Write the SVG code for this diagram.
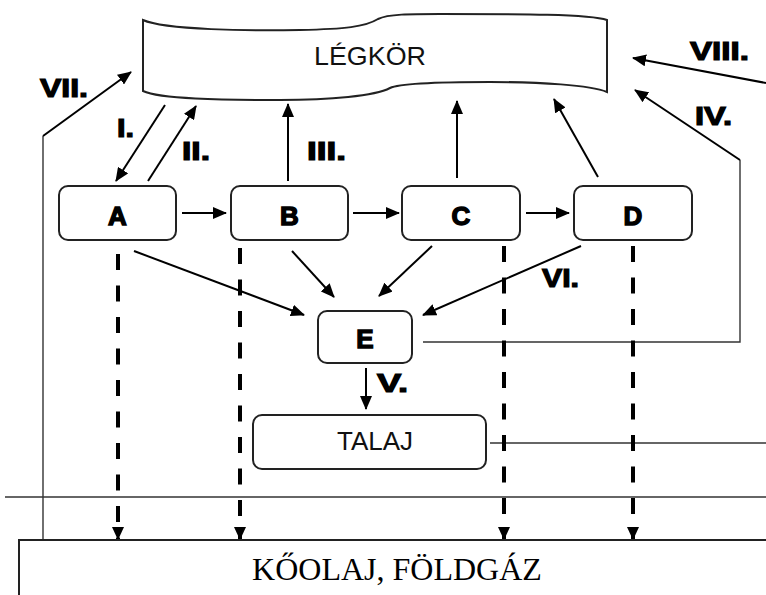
<svg xmlns="http://www.w3.org/2000/svg" width="766" height="595" viewBox="0 0 766 595">
<style>
.box{fill:#fff;stroke:#222;stroke-width:2}
.lbl{font-family:"Liberation Sans",Arial,sans-serif;font-weight:bold;font-size:26px;fill:#000;stroke:#000;stroke-width:1.4;text-anchor:middle}
.rn{font-family:"Liberation Sans",Arial,sans-serif;font-weight:bold;font-size:26px;fill:#000;stroke:#000;stroke-width:1.2}
.txt{font-family:"Liberation Sans",Arial,sans-serif;font-size:26px;fill:#111;text-anchor:middle}
.arr{fill:none;stroke:#000;stroke-width:2;marker-end:url(#ah)}
.thin{fill:none;stroke:#333;stroke-width:1.4}
.dash{fill:none;stroke:#000;stroke-width:4;stroke-dasharray:16 15.5;marker-end:url(#dh)}
</style>
<defs>
<marker id="ah" markerUnits="userSpaceOnUse" markerWidth="14" markerHeight="12" refX="13" refY="6" orient="auto">
<path d="M0,0 L14,6 L0,12 Z" fill="#000"/>
</marker>
<marker id="dh" markerUnits="userSpaceOnUse" markerWidth="13" markerHeight="12" refX="12" refY="6" orient="auto">
<path d="M0,0 L13,6 L0,12 Z" fill="#000"/>
</marker>
</defs>
<rect width="766" height="595" fill="#fff"/>

<g id="connectors">
<line class="thin" x1="5" y1="497" x2="766" y2="497"/>
<line class="thin" x1="490" y1="443" x2="766" y2="443"/>
<polyline class="thin" points="43,540 43,136"/>
<line class="arr" x1="43" y1="136" x2="131" y2="72"/>
<polyline class="thin" points="423,342 740,342 740,160"/>
<line class="arr" x1="740" y1="160" x2="635" y2="90"/>
<line class="arr" x1="766" y1="83" x2="633" y2="58"/>
<line class="arr" x1="165" y1="105" x2="116" y2="181"/>
<line class="arr" x1="148" y1="181" x2="196" y2="106"/>
<line class="arr" x1="288" y1="181" x2="288" y2="104"/>
<line class="arr" x1="457" y1="178" x2="457" y2="101"/>
<line class="arr" x1="598" y1="177" x2="554" y2="99"/>
<line class="arr" x1="182" y1="213" x2="226" y2="213"/>
<line class="arr" x1="353" y1="213" x2="399" y2="213"/>
<line class="arr" x1="526" y1="213" x2="569" y2="213"/>
<line class="arr" x1="134" y1="251" x2="304" y2="315"/>
<line class="arr" x1="292" y1="251" x2="334" y2="297"/>
<line class="arr" x1="432" y1="246" x2="379" y2="296"/>
<line class="arr" x1="581" y1="246" x2="423" y2="315"/>
<line class="arr" x1="366" y1="368" x2="366" y2="409"/>
<line class="dash" x1="118" y1="254" x2="118" y2="539"/>
<line class="dash" x1="240" y1="248" x2="240" y2="539"/>
<line class="dash" x1="504" y1="246" x2="504" y2="539"/>
<line class="dash" x1="633" y1="246" x2="633" y2="539"/>
</g>

<g id="legkor">
<path class="box" d="M143,20 C165,30 250,31 300,30 C345,29 365,27 378,19 C388,14 410,14 440,14 C520,14 590,14 607,20 L607,92 C590,85 540,82 490,82 C440,82 400,83 390,88 C375,96 330,100 280,100 C220,100 160,99 143,91 Z"/>
<text class="txt" x="370" y="65" textLength="112" lengthAdjust="spacingAndGlyphs">LÉGKÖR</text>
</g>

<g id="nodeA"><rect class="box" x="59" y="186" width="117" height="54" rx="9"/><text class="lbl" x="117.5" y="225">A</text></g>
<g id="nodeB"><rect class="box" x="231" y="186" width="117" height="54" rx="9"/><text class="lbl" x="289.5" y="225">B</text></g>
<g id="nodeC"><rect class="box" x="402" y="186" width="118" height="54" rx="9"/><text class="lbl" x="461" y="225">C</text></g>
<g id="nodeD"><rect class="box" x="574" y="186" width="118" height="54" rx="9"/><text class="lbl" x="633" y="225">D</text></g>
<g id="nodeE"><rect class="box" x="318" y="311" width="94" height="52" rx="9"/><text class="lbl" x="365" y="348">E</text></g>
<g id="talaj"><rect class="box" x="253" y="415" width="233" height="54" rx="9"/><text class="txt" x="375" y="450">TALAJ</text></g>
<g id="koolaj">
<path d="M19,595 L19,540 L766,540" fill="#fff" stroke="#222" stroke-width="2"/>
<text x="397" y="580" font-family="'Liberation Serif','Times New Roman',serif" font-size="32" text-anchor="middle" fill="#000">KŐOLAJ, FÖLDGÁZ</text>
</g>

<g id="labels">
<text class="rn" x="40" y="97" textLength="48" lengthAdjust="spacingAndGlyphs">VII.</text>
<text class="rn" x="117" y="137" textLength="17" lengthAdjust="spacingAndGlyphs">I.</text>
<text class="rn" x="182" y="160" textLength="28" lengthAdjust="spacingAndGlyphs">II.</text>
<text class="rn" x="307" y="160" textLength="39" lengthAdjust="spacingAndGlyphs">III.</text>
<text class="rn" x="690" y="60" textLength="59" lengthAdjust="spacingAndGlyphs">VIII.</text>
<text class="rn" x="695" y="125" textLength="37" lengthAdjust="spacingAndGlyphs">IV.</text>
<text class="rn" x="542" y="287" textLength="37" lengthAdjust="spacingAndGlyphs">VI.</text>
<text class="rn" x="377" y="392" textLength="31" lengthAdjust="spacingAndGlyphs">V.</text>
</g>
</svg>
